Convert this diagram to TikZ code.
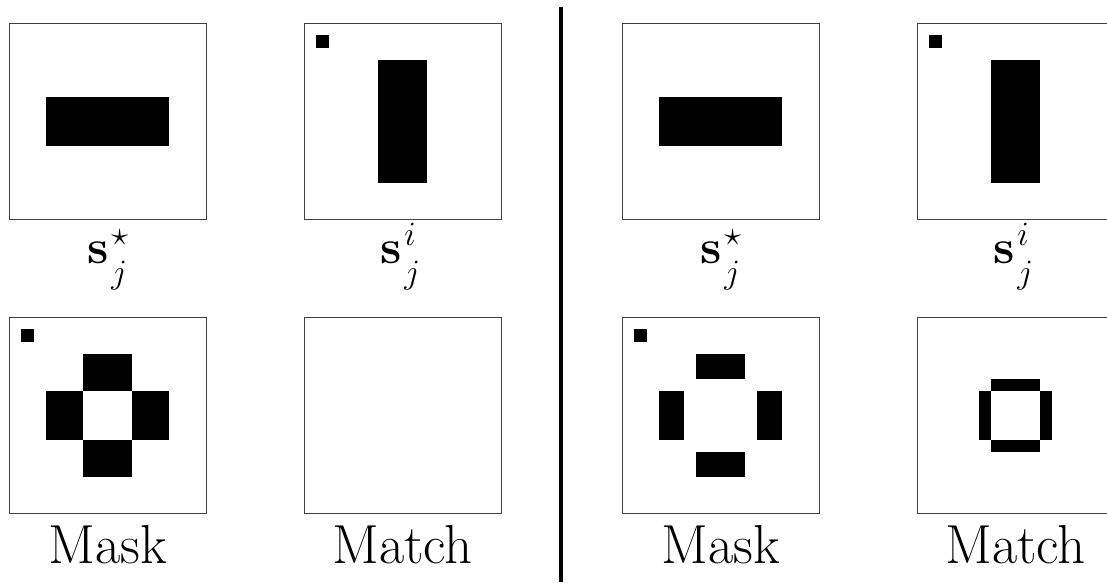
\RequirePackage{fix-cm}
\documentclass[tikz,border=0pt]{standalone}
\newcommand\sclab[1]{$\mathbf{s}$\kern3pt\makebox[0pt][l]{\raisebox{18pt}{\fontsize{34}{38}\selectfont$#1$}}\raisebox{-20pt}{\fontsize{34}{38}\selectfont$j$}\hspace{4pt}}
\begin{document}
\begin{tikzpicture}[x=1pt,y=-1pt,
  box/.style={draw=black!75, line width=1.3pt, minimum width=197pt, minimum height=196pt, inner sep=0pt, anchor=north west, fill=white},
  lab/.style={anchor=base, inner sep=0pt},
  mlab/.style={lab, font=\fontsize{48}{52}\selectfont},
  tlab/.style={lab, font=\fontsize{55}{60}\selectfont},
  grid/.style={x=12.3125pt, y=-12.3125pt}]
\useasboundingbox (0,0) rectangle (1107,582);
\clip (0,0) rectangle (1107,582);
% left panel
\node[box] (a1) at (9,23) {};
\node[box] (a2) at (304,23) {};
\node[box] (a3) at (9,317) {};
\node[box] (a4) at (304,317) {};
% right panel
\node[box] (b1) at (622,23) {};
\node[box] (b2) at (917,23) {};
\node[box] (b3) at (622,317) {};
\node[box] (b4) at (917,317) {};
% contents
\begin{scope}[shift={(a1.north west)}, grid]
  \fill (3,6) rectangle (13,10);
\end{scope}
\begin{scope}[shift={(a2.north west)}, grid]
  \fill (1,1) rectangle (2,2);
  \fill (6,3) rectangle (10,13);
\end{scope}
\begin{scope}[shift={(a3.north west)}, grid]
  \fill (1,1) rectangle (2,2);
  \fill (6,3) rectangle (10,6);
  \fill (3,6) rectangle (6,10);
  \fill (10,6) rectangle (13,10);
  \fill (6,10) rectangle (10,13);
\end{scope}
\begin{scope}[shift={(b1.north west)}, grid]
  \fill (3,6) rectangle (13,10);
\end{scope}
\begin{scope}[shift={(b2.north west)}, grid]
  \fill (1,1) rectangle (2,2);
  \fill (6,3) rectangle (10,13);
\end{scope}
\begin{scope}[shift={(b3.north west)}, grid]
  \fill (1,1) rectangle (2,2);
  \fill (6,3) rectangle (10,5);
  \fill (3,6) rectangle (5,10);
  \fill (11,6) rectangle (13,10);
  \fill (6,11) rectangle (10,13);
\end{scope}
\begin{scope}[shift={(b4.north west)}, grid]
  \fill (6,5) rectangle (10,6);
  \fill (5,6) rectangle (6,10);
  \fill (10,6) rectangle (11,10);
  \fill (6,10) rectangle (10,11);
\end{scope}
% labels
\node[mlab] (la1) at (107,263) {\sclab{\star}};
\node[mlab] (la2) at (400,263) {\sclab{i}};
\node[tlab] (la3) at (107.5,563) {Mask};
\node[tlab] (la4) at (402.5,563) {Match};
\node[mlab] (lb1) at (720,263) {\sclab{\star}};
\node[mlab] (lb2) at (1013,263) {\sclab{i}};
\node[tlab] (lb3) at (720.5,563) {Mask};
\node[tlab] (lb4) at (1015.5,563) {Match};
% divider
\coordinate (dtop) at (561,7);
\coordinate (dbot) at (561,582);
\draw[line width=4.5pt] (dtop) -- (dbot);
\end{tikzpicture}
\end{document}
